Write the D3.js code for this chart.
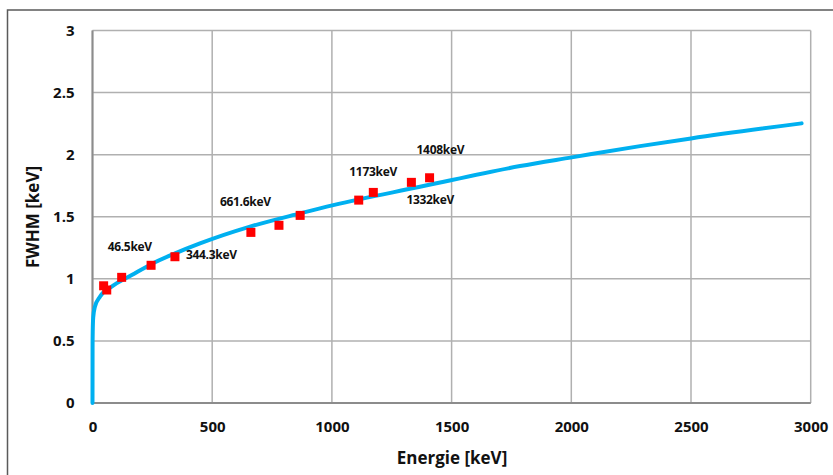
<!DOCTYPE html>
<html>
<head>
<meta charset="utf-8">
<script src="https://cdn.jsdelivr.net/npm/d3@7"></script>
<style>
  body { margin: 0; background: #fff; }
  text { font-family: "Open Sans", sans-serif; font-weight: bold; fill: #111; }
</style>
</head>
<body>
<div id="chart"></div>
<script>
// measured points (keV, FWHM keV)
var pointEnergy = [46.5, 59.5, 121.8, 244.7, 344.3, 661.6, 778.9, 867.4, 1112, 1173, 1332, 1408];
var pointFwhm   = [0.944, 0.91, 1.012, 1.109, 1.178, 1.374, 1.431, 1.511, 1.634, 1.696, 1.777, 1.814];

// fit curve
var fitEnergy = [0, 0.3, 1, 3, 10, 31, 80, 164, 247, 345, 449, 658, 867, 1006, 1368, 1786, 2002, 2287, 2500, 2962];
var fitFwhm   = [0, 0.45, 0.58, 0.69, 0.775, 0.856, 0.937, 1.03, 1.12, 1.205, 1.285, 1.42, 1.527, 1.594, 1.741, 1.908, 1.978, 2.069, 2.131, 2.252];

// labelled lines
var labelNames = ["46.5keV", "344.3keV", "661.6keV", "1173keV", "1332keV", "1408keV"];
var labelIndex = [0, 4, 5, 9, 10, 11];

var xTicks = [0, 500, 1000, 1500, 2000, 2500, 3000];
var yTicks = [0, 0.5, 1, 1.5, 2, 2.5, 3];

var width = 833, height = 475;
var margin = { left: 92.5, right: 833 - 810.7, top: 30.5, bottom: 475 - 403 };

var svg = d3.select("#chart").append("svg")
    .attr("width", width)
    .attr("height", height);

// outer frame
svg.append("rect")
    .attr("x", 7.5).attr("y", 10)
    .attr("width", 900).attr("height", 600)
    .attr("fill", "none")
    .attr("stroke", "#5a5a5a")
    .attr("stroke-width", 1.5);

var x = d3.scaleLinear().domain([0, 3000]).range([margin.left, width - margin.right]);
var y = d3.scaleLinear().domain([0, 3]).range([height - margin.bottom, margin.top]);

// grid
svg.append("g").selectAll("line")
  .data(xTicks)
  .enter().append("line")
    .attr("x1", function(d) { return x(d); })
    .attr("x2", function(d) { return x(d); })
    .attr("y1", y(0)).attr("y2", y(3))
    .attr("stroke", "#b0b0b0").attr("stroke-width", 1.5);

svg.append("g").selectAll("line")
  .data(yTicks)
  .enter().append("line")
    .attr("y1", function(d) { return y(d); })
    .attr("y2", function(d) { return y(d); })
    .attr("x1", x(0)).attr("x2", x(3000))
    .attr("stroke", "#b0b0b0").attr("stroke-width", 1.5);

// axis lines a bit darker
svg.append("line")
    .attr("x1", x(0)).attr("x2", x(0)).attr("y1", y(0)).attr("y2", y(3))
    .attr("stroke", "#8c8c8c").attr("stroke-width", 2);
svg.append("line")
    .attr("x1", x(0)).attr("x2", x(3000)).attr("y1", y(0)).attr("y2", y(0))
    .attr("stroke", "#8c8c8c").attr("stroke-width", 2);

// tick labels
var xAxis = d3.axisBottom(x).tickValues(xTicks).tickSize(0).tickPadding(18)
    .tickFormat(function(d) { return d; });
var gx = svg.append("g")
    .attr("transform", "translate(0," + y(0) + ")")
    .call(xAxis);
gx.select(".domain").remove();
gx.selectAll("text").style("font-size", "15px").attr("fill", "#111");

var yAxis = d3.axisLeft(y).tickValues(yTicks).tickSize(0).tickPadding(18)
    .tickFormat(function(d) { return d; });
var gy = svg.append("g")
    .attr("transform", "translate(" + x(0) + ",0)")
    .call(yAxis);
gy.select(".domain").remove();
gy.selectAll("text").style("font-size", "15px").attr("fill", "#111");

// axis titles
svg.append("text")
    .attr("x", 452).attr("y", 464)
    .attr("text-anchor", "middle")
    .style("font-size", "17px")
    .text("Energie [keV]");

svg.append("text")
    .attr("transform", "translate(39,217) rotate(-90)")
    .attr("text-anchor", "middle")
    .style("font-size", "17px")
    .text("FWHM [keV]");

// fit line
var fitData = fitEnergy.map(function(e, i) { return [e, fitFwhm[i]]; });
var line = d3.line()
    .x(function(d) { return x(d[0]); })
    .y(function(d) { return y(d[1]); })
    .curve(d3.curveMonotoneX);

svg.append("path")
    .datum(fitData)
    .attr("d", line)
    .attr("fill", "none")
    .attr("stroke", "#00b0f0")
    .attr("stroke-width", 4)
    .attr("stroke-linecap", "round");

// markers
var sq = 9;
svg.append("g").selectAll("rect")
  .data(pointEnergy)
  .enter().append("rect")
    .attr("x", function(d) { return x(d) - sq / 2; })
    .attr("y", function(d, i) { return y(pointFwhm[i]) - sq / 2; })
    .attr("width", sq).attr("height", sq)
    .attr("fill", "#ff0000");

// peak labels
var labelOffset = [[4, -39], [11, -2], [-31, -31], [-24, -21], [-5, 17], [-13, -28]];
svg.append("g").selectAll("text")
  .data(labelNames)
  .enter().append("text")
    .attr("x", function(d, i) { return x(pointEnergy[labelIndex[i]]) + labelOffset[i][0]; })
    .attr("y", function(d, i) { return y(pointFwhm[labelIndex[i]]) + labelOffset[i][1]; })
    .attr("dy", "0.35em")
    .style("font-size", "12px")
    .style("letter-spacing", "-0.3px")
    .text(function(d) { return d; });
</script>
</body>
</html>
